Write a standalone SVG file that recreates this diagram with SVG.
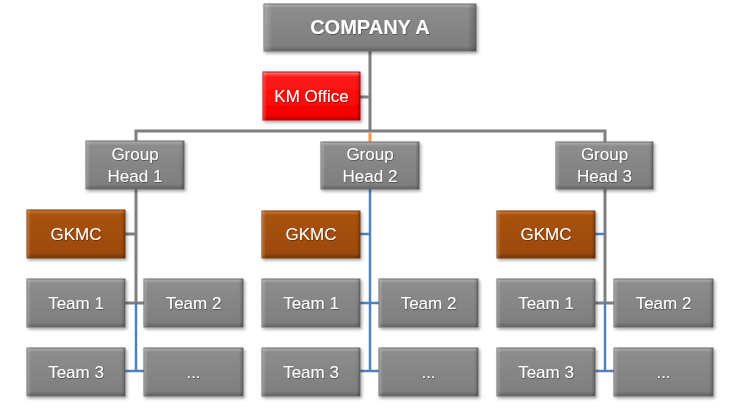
<svg xmlns="http://www.w3.org/2000/svg" width="741" height="408" viewBox="0 0 741 408">
<defs>
  <linearGradient id="gGray" x1="0" y1="0" x2="0" y2="1">
    <stop offset="0" stop-color="#b0b0b0"/>
    <stop offset="0.09" stop-color="#8c8c8c"/>
    <stop offset="0.9" stop-color="#7f7f7f"/>
    <stop offset="1" stop-color="#626262"/>
  </linearGradient>
  <linearGradient id="gRed" x1="0" y1="0" x2="0" y2="1">
    <stop offset="0" stop-color="#ff8a8a"/>
    <stop offset="0.09" stop-color="#ff1a1a"/>
    <stop offset="0.9" stop-color="#f50000"/>
    <stop offset="1" stop-color="#b80000"/>
  </linearGradient>
  <linearGradient id="gBrown" x1="0" y1="0" x2="0" y2="1">
    <stop offset="0" stop-color="#d0803a"/>
    <stop offset="0.09" stop-color="#a8520e"/>
    <stop offset="0.9" stop-color="#9c4a09"/>
    <stop offset="1" stop-color="#6e3305"/>
  </linearGradient>
  <linearGradient id="gSide" x1="0" y1="0" x2="1" y2="0">
    <stop offset="0" stop-color="#ffffff" stop-opacity="0.25"/>
    <stop offset="0.04" stop-color="#ffffff" stop-opacity="0"/>
    <stop offset="0.96" stop-color="#000000" stop-opacity="0"/>
    <stop offset="1" stop-color="#000000" stop-opacity="0.22"/>
  </linearGradient>
  <filter id="sh" x="-10%" y="-10%" width="130%" height="140%">
    <feDropShadow dx="1.5" dy="2" stdDeviation="1.5" flood-color="#000" flood-opacity="0.35"/>
  </filter>
  <filter id="tsh" x="-10%" y="-20%" width="130%" height="150%">
    <feDropShadow dx="0.6" dy="0.8" stdDeviation="0.4" flood-color="#000" flood-opacity="0.45"/>
  </filter>
</defs>
<style>
  .gray { fill: url(#gGray); stroke: #6a6a6a; stroke-width: 1; }
  .red { fill: url(#gRed); stroke: #c00000; stroke-width: 1; }
  .brown { fill: url(#gBrown); stroke: #7a3906; stroke-width: 1; }
  .side { fill: url(#gSide); stroke: none; }
  .box { filter: url(#sh); }
  text { font-family: "Liberation Sans", Arial, sans-serif; font-size: 17px; fill: #ffffff; text-anchor: middle; filter: url(#tsh); }
  .big { font-size: 20px; font-weight: bold; }
  .cg { stroke: #7f7f7f; stroke-width: 3; fill: none; }
  .cb { stroke: #4f81bd; stroke-width: 2.5; fill: none; }
  .co { stroke: #f79646; stroke-width: 3; fill: none; }
</style>

<g id="connectors">
  <path class="cg" d="M370,51 V131"/>
  <path class="cg" d="M360,97 H370"/>
  <path class="cg" d="M136,142 V131 H605 V142"/>
  <path class="co" d="M370,132.5 V142"/>
  <!-- group 1 -->
  <path class="cg" d="M136,189 V303"/>
  <path class="cg" d="M125,234 H136"/>
  <path class="cg" d="M125,303 H144"/>
  <path class="cb" d="M136,303 V371"/>
  <path class="cb" d="M125,371 H144"/>
  <!-- group 2 -->
  <path class="cb" d="M370,189 V371"/>
  <path class="cb" d="M360,234 H370"/>
  <path class="cb" d="M360,303 H379"/>
  <path class="cb" d="M360,371 H379"/>
  <!-- group 3 -->
  <path class="cg" d="M605,189 V303"/>
  <path class="cb" d="M595,234 H605"/>
  <path class="cg" d="M595,303 H614"/>
  <path class="cb" d="M605,303 V371"/>
  <path class="cb" d="M595,371 H614"/>
</g>

<g id="company-a" class="box">
  <rect class="gray" x="264" y="4" width="212" height="47"/>
  <rect class="side" x="264" y="4" width="212" height="47"/>
  <text class="big" x="370" y="34">COMPANY A</text>
</g>
<g id="km-office" class="box">
  <rect class="red" x="263" y="72" width="97" height="48"/>
  <rect class="side" x="263" y="72" width="97" height="48"/>
  <text x="311.5" y="102">KM Office</text>
</g>

<g id="group-head-1" class="box">
  <rect class="gray" x="86" y="141" width="98" height="48"/>
  <rect class="side" x="86" y="141" width="98" height="48"/>
  <text x="135" y="160">Group</text>
  <text x="135" y="182">Head 1</text>
</g>
<g id="group-head-2" class="box">
  <rect class="gray" x="321" y="142" width="98" height="47"/>
  <rect class="side" x="321" y="142" width="98" height="47"/>
  <text x="370" y="160">Group</text>
  <text x="370" y="182">Head 2</text>
</g>
<g id="group-head-3" class="box">
  <rect class="gray" x="556" y="142" width="97" height="47"/>
  <rect class="side" x="556" y="142" width="97" height="47"/>
  <text x="604.5" y="160">Group</text>
  <text x="604.5" y="182">Head 3</text>
</g>

<g id="gkmc-1" class="box">
  <rect class="brown" x="27" y="210" width="98" height="48"/>
  <rect class="side" x="27" y="210" width="98" height="48"/>
  <text x="76" y="240">GKMC</text>
</g>
<g id="gkmc-2" class="box">
  <rect class="brown" x="262" y="211" width="98" height="47"/>
  <rect class="side" x="262" y="211" width="98" height="47"/>
  <text x="311" y="240">GKMC</text>
</g>
<g id="gkmc-3" class="box">
  <rect class="brown" x="497" y="211" width="98" height="47"/>
  <rect class="side" x="497" y="211" width="98" height="47"/>
  <text x="546" y="240">GKMC</text>
</g>

<g id="g1-team-1" class="box">
  <rect class="gray" x="27" y="279" width="98" height="48"/>
  <rect class="side" x="27" y="279" width="98" height="48"/>
  <text x="76" y="309">Team 1</text>
</g>
<g id="g1-team-2" class="box">
  <rect class="gray" x="144" y="279" width="99" height="48"/>
  <rect class="side" x="144" y="279" width="99" height="48"/>
  <text x="193.5" y="309">Team 2</text>
</g>
<g id="g1-team-3" class="box">
  <rect class="gray" x="27" y="348" width="98" height="48"/>
  <rect class="side" x="27" y="348" width="98" height="48"/>
  <text x="76" y="378">Team 3</text>
</g>
<g id="g1-more" class="box">
  <rect class="gray" x="144" y="348" width="99" height="48"/>
  <rect class="side" x="144" y="348" width="99" height="48"/>
  <text x="193.5" y="378">...</text>
</g>

<g id="g2-team-1" class="box">
  <rect class="gray" x="262" y="279" width="98" height="48"/>
  <rect class="side" x="262" y="279" width="98" height="48"/>
  <text x="311" y="309">Team 1</text>
</g>
<g id="g2-team-2" class="box">
  <rect class="gray" x="379" y="279" width="99" height="48"/>
  <rect class="side" x="379" y="279" width="99" height="48"/>
  <text x="428.5" y="309">Team 2</text>
</g>
<g id="g2-team-3" class="box">
  <rect class="gray" x="262" y="348" width="98" height="48"/>
  <rect class="side" x="262" y="348" width="98" height="48"/>
  <text x="311" y="378">Team 3</text>
</g>
<g id="g2-more" class="box">
  <rect class="gray" x="379" y="348" width="99" height="48"/>
  <rect class="side" x="379" y="348" width="99" height="48"/>
  <text x="428.5" y="378">...</text>
</g>

<g id="g3-team-1" class="box">
  <rect class="gray" x="497" y="279" width="98" height="48"/>
  <rect class="side" x="497" y="279" width="98" height="48"/>
  <text x="546" y="309">Team 1</text>
</g>
<g id="g3-team-2" class="box">
  <rect class="gray" x="614" y="279" width="99" height="48"/>
  <rect class="side" x="614" y="279" width="99" height="48"/>
  <text x="663.5" y="309">Team 2</text>
</g>
<g id="g3-team-3" class="box">
  <rect class="gray" x="497" y="348" width="98" height="48"/>
  <rect class="side" x="497" y="348" width="98" height="48"/>
  <text x="546" y="378">Team 3</text>
</g>
<g id="g3-more" class="box">
  <rect class="gray" x="614" y="348" width="99" height="48"/>
  <rect class="side" x="614" y="348" width="99" height="48"/>
  <text x="663.5" y="378">...</text>
</g>
</svg>
